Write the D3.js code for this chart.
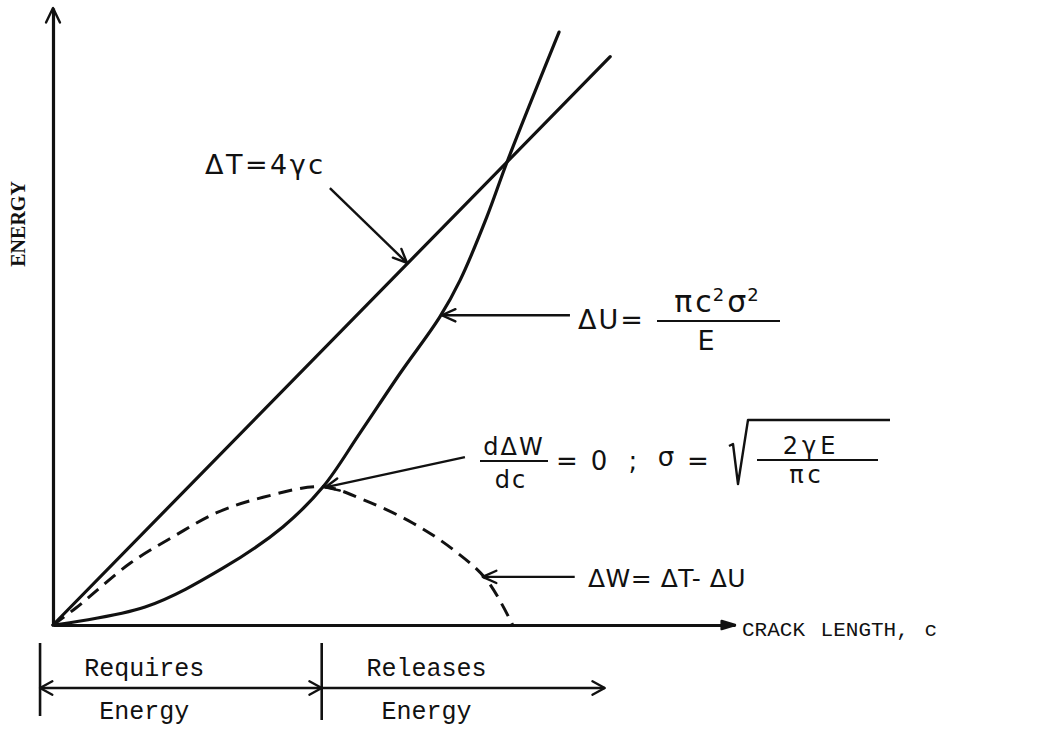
<!DOCTYPE html>
<html>
<head>
<meta charset="utf-8">
<script src="https://cdn.jsdelivr.net/npm/d3@7"></script>
<style>
  body { margin: 0; background: #fff; }
  .hand { font-family: "DejaVu Sans", sans-serif; fill: #111; }
  .type { font-family: "Liberation Mono", "DejaVu Sans Mono", monospace; fill: #111; }
  .serif { font-family: "Liberation Serif", serif; fill: #111; }
</style>
</head>
<body>
<svg id="chart" width="1040" height="733"></svg>
<script>
// Griffith crack energy balance (arbitrary units)
// crack length c on x, energy on y
const surfaceEnergy = [[0, 0], [8.17, 9.21]];                      // ΔT = 4γc
const strainEnergy = [[0, 0], [1.35, 0.29], [2.49, 0.92], [3.37, 1.59], [3.96, 2.24],
                      [4.50, 3.11], [5.09, 4.08], [5.67, 4.99], [5.97, 5.59],
                      [6.36, 6.61], [6.67, 7.54], [7.42, 9.61]];     // ΔU
const totalEnergy = [[0, 0], [0.34, 0.28], [1.13, 1.00], [1.76, 1.43], [2.40, 1.82],
                     [3.08, 2.07], [3.96, 2.24], [4.55, 2.03], [5.28, 1.65],
                     [5.87, 1.22], [6.36, 0.73], [6.74, 0]];         // ΔW = ΔT − ΔU
const regimeEdges = [-0.19, 3.94, 8.09];   // start, critical length, end of bracket
const regimeTop = ["Requires", "Releases"];
const regimeBottom = ["Energy", "Energy"];

// annotation leaders: [from, to] in data units
const leaders = {
  dT: [[4.06, 7.08], [5.19, 5.87]],
  dU: [[7.58, 5.02], [5.70, 5.02]],
  crit: [[6.04, 2.72], [3.99, 2.23]],
  dW: [[7.65, 0.78], [6.30, 0.78]]
};

const svg = d3.select("#chart");
const x = d3.scaleLinear().domain([0, 10]).range([53, 735]);
const y = d3.scaleLinear().domain([0, 10]).range([625, 8]);
const ink = "#111";

function arrowHead(g, tip, from, len, ang, filled) {
  const a = Math.atan2(tip[1] - from[1], tip[0] - from[0]);
  const p1 = [tip[0] - len * Math.cos(a - ang), tip[1] - len * Math.sin(a - ang)];
  const p2 = [tip[0] - len * Math.cos(a + ang), tip[1] - len * Math.sin(a + ang)];
  g.append("path")
    .attr("d", filled ? `M${p1}L${tip}L${p2}Z` : `M${p1}L${tip}L${p2}`)
    .attr("fill", filled ? ink : "none")
    .attr("stroke", ink).attr("stroke-width", 2.4)
    .attr("stroke-linejoin", "round").attr("stroke-linecap", "round");
}
function label(cls, px, py, size, str, opts = {}) {
  const t = svg.append("text").attr("class", cls).attr("x", px).attr("y", py)
    .attr("font-size", size).attr("text-anchor", opts.anchor || "start")
    .attr("letter-spacing", opts.ls || 0).text(str);
  return t;
}
function bar(x1, x2, yy) {
  svg.append("line").attr("x1", x1).attr("x2", x2).attr("y1", yy).attr("y2", yy)
    .attr("stroke", ink).attr("stroke-width", 2.2);
}

// axes without ticks
svg.append("g").attr("transform", `translate(0,${y(0)})`)
  .call(d3.axisBottom(x).tickValues([]).tickSizeOuter(0));
svg.append("g").attr("transform", `translate(${x(0)},0)`)
  .call(d3.axisLeft(y).tickValues([]).tickSizeOuter(0));
svg.selectAll(".domain").attr("stroke", ink).attr("stroke-width", 3.2);
arrowHead(svg, [x(10), y(0)], [x(0), y(0)], 14, 0.3, true);
arrowHead(svg, [x(0), y(10)], [x(0), y(0)], 16, 0.45, false);

svg.append("text").attr("class", "serif")
  .attr("transform", `translate(25,${y(6.5)}) rotate(-90)`)
  .attr("text-anchor", "middle").attr("font-size", 20).attr("font-weight", "bold")
  .text("ENERGY");
svg.append("text").attr("class", "type")
  .attr("x", 742).attr("y", 636).attr("font-size", 21).attr("word-spacing", 3)
  .text("CRACK LENGTH, c");

// curves
const line = d3.line().x(d => x(d[0])).y(d => y(d[1])).curve(d3.curveCatmullRom.alpha(0.5));
svg.append("path").datum(surfaceEnergy).attr("d", line)
  .attr("fill", "none").attr("stroke", ink).attr("stroke-width", 3.2).attr("stroke-linecap", "round");
svg.append("path").datum(strainEnergy).attr("d", line)
  .attr("fill", "none").attr("stroke", ink).attr("stroke-width", 3.2).attr("stroke-linecap", "round");
svg.append("path").datum(totalEnergy).attr("d", line)
  .attr("fill", "none").attr("stroke", ink).attr("stroke-width", 3)
  .attr("stroke-dasharray", "14 8");

// leaders
Object.values(leaders).forEach(([a, b]) => {
  const p = [x(a[0]), y(a[1])], q = [x(b[0]), y(b[1])];
  svg.append("line").attr("x1", p[0]).attr("y1", p[1]).attr("x2", q[0]).attr("y2", q[1])
    .attr("stroke", ink).attr("stroke-width", 2.4);
  arrowHead(svg, q, p, 15, 0.42, false);
});

// ΔT = 4γc
label("hand", 205, 174, 27, "ΔT=4γc", { ls: 2.5 });

// ΔU = πc²σ² / E
label("hand", 578, 329, 27, "ΔU=", { ls: 2 });
bar(657, 780, 321);
const num = label("hand", 718, 312, 30, "", { anchor: "middle", ls: 3 });
num.append("tspan").text("πc");
num.append("tspan").attr("font-size", 18).attr("dy", -11).attr("dx", -2).text("2");
num.append("tspan").attr("dy", 11).text("σ");
num.append("tspan").attr("font-size", 18).attr("dy", -11).attr("dx", -2).text("2");
label("hand", 706, 350, 27, "E", { anchor: "middle" });

// dΔW/dc = 0 ; σ = √(2γE/πc)
label("hand", 514, 455, 24, "dΔW", { anchor: "middle", ls: 2 });
bar(480, 548, 461);
label("hand", 511, 488, 24, "dc", { anchor: "middle", ls: 2 });
label("hand", 567, 470, 26, "=", { anchor: "middle" });
label("hand", 599, 470, 26, "0", { anchor: "middle" });
label("hand", 633, 470, 26, ";", { anchor: "middle" });
label("hand", 666, 466, 26, "σ", { anchor: "middle" });
label("hand", 698, 470, 26, "=", { anchor: "middle" });
svg.append("path").attr("d", "M729,446L733,444L738,484L748,420L890,420")
  .attr("fill", "none").attr("stroke", ink).attr("stroke-width", 2.4).attr("stroke-linejoin", "round");
label("hand", 811, 454, 24, "2γE", { anchor: "middle", ls: 4 });
bar(757, 878, 460);
label("hand", 807, 483, 24, "πc", { anchor: "middle", ls: 4 });

// ΔW = ΔT − ΔU
label("hand", 588, 587, 25, "ΔW= ΔT- ΔU", { ls: 0.5 });

// regime brackets below the axis
const by = 688;
regimeEdges.slice(0, 2).forEach((c, i) => {
  svg.append("line").attr("x1", x(c)).attr("x2", x(c)).attr("y1", 643).attr("y2", 716 + i * 4)
    .attr("stroke", ink).attr("stroke-width", 2.6);
});
svg.append("line").attr("x1", x(regimeEdges[0])).attr("x2", x(regimeEdges[2])).attr("y1", by).attr("y2", by)
  .attr("stroke", ink).attr("stroke-width", 2.4);
arrowHead(svg, [x(regimeEdges[0]), by], [x(regimeEdges[1]), by], 14, 0.5, false);
arrowHead(svg, [x(regimeEdges[1]), by], [x(regimeEdges[0]), by], 14, 0.5, false);
arrowHead(svg, [x(regimeEdges[2]), by], [x(regimeEdges[1]), by], 14, 0.5, false);
regimeTop.forEach((t, i) => {
  const left = x(regimeEdges[i]), w = x(regimeEdges[i + 1]) - left;
  const cx = left + 0.37 * w;
  label("type", cx, 676, 25, t, { anchor: "middle" });
  label("type", cx, 719, 25, regimeBottom[i], { anchor: "middle" });
});
</script>
</body>
</html>
